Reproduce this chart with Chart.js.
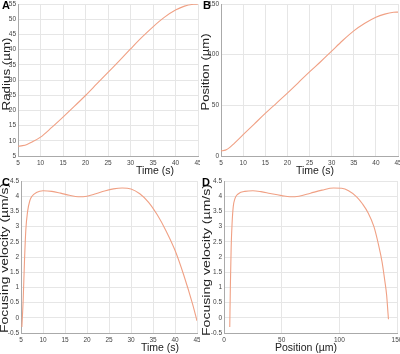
<!DOCTYPE html>
<html>
<head>
<meta charset="utf-8">
<script src="https://cdn.jsdelivr.net/npm/chart.js@4/dist/chart.umd.min.js"></script>
<style>
  body { margin: 0; background: #fff; }
  #wrap { position: relative; width: 400px; height: 354px; overflow: hidden; }
  canvas { position: absolute; }
  .tag { position: absolute; font: bold 11px "Liberation Sans", Arial, sans-serif; color: #000; }
</style>
</head>
<body>
<div id="wrap">
  <canvas id="cA" width="200" height="177" style="left:0;top:0"></canvas>
  <canvas id="cB" width="200" height="177" style="left:200px;top:0"></canvas>
  <canvas id="cC" width="200" height="177" style="left:0;top:177px"></canvas>
  <canvas id="cD" width="200" height="177" style="left:200px;top:177px"></canvas>
  <div class="tag" style="left:2px;top:-1px">A</div>
  <div class="tag" style="left:203px;top:-1px">B</div>
  <div class="tag" style="left:2px;top:176px">C</div>
  <div class="tag" style="left:202px;top:176px">D</div>
</div>
<script>
// panel A: radius vs time
var timeA = [5, 6, 7, 8, 10, 12.5, 15, 17.5, 20, 22.5, 25, 27.5, 30, 32.5, 35, 37.5, 40, 42, 44, 45];
var radius = [8.2, 8.4, 8.8, 9.5, 11.2, 14.4, 17.8, 21.3, 24.9, 28.7, 32.5, 36.3, 40.2, 44, 47.5, 50.6, 53, 54.3, 54.9, 55];

// panel B: position vs time
var timeB = [5, 6, 7, 8, 10, 12.5, 15, 17.5, 20, 22.5, 25, 27.5, 30, 32.5, 35, 37.5, 40, 42, 44, 45];
var position = [5, 5.8, 8.5, 12.5, 21, 31.5, 42, 52, 62, 72.5, 83, 93, 103.5, 114, 123.5, 131, 137, 140, 141.8, 142];

// panel C: focusing velocity vs time
var timeC = [5.2, 5.5, 5.8, 6.1, 6.5, 7, 7.5, 8.5, 10, 12, 14, 16, 18, 20, 22, 24, 26, 28, 30, 32, 34, 36, 38, 40, 42, 44, 45];
var velC = [-0.3, 0.6, 1.9, 2.9, 3.5, 3.85, 4.0, 4.12, 4.18, 4.16, 4.1, 4.03, 3.98, 4.0, 4.08, 4.17, 4.24, 4.27, 4.24, 4.08, 3.8, 3.38, 2.85, 2.22, 1.4, 0.45, -0.1];

// panel D: focusing velocity vs position
var posD = [5, 5.5, 6.2, 7, 8, 9.5, 11, 14, 18, 25, 32, 40, 50, 57, 65, 75, 85, 95, 102, 108, 115, 120, 125, 130, 134, 137, 139.5, 141, 142.2, 142.6];
var velD = [-0.3, 1.0, 2.3, 3.1, 3.65, 3.92, 4.03, 4.12, 4.16, 4.18, 4.15, 4.09, 4.02, 3.98, 4.0, 4.1, 4.2, 4.27, 4.26, 4.18, 3.98, 3.75, 3.45, 3.0, 2.4, 1.85, 1.2, 0.75, 0.15, -0.05];

var lineColor = 'rgb(240,160,132)';
var gridColor = '#e6e6e6';
var fontFam = '"Liberation Sans", Arial, sans-serif';
var tickFont = { family: fontFam, size: 6.5 };

// axis titles drawn by hand so the y title can be stretched along its length like the original
var axisTitles = {
  id: 'axisTitles',
  afterDraw: function(chart, args, o) {
    var c = chart.ctx;
    c.save();
    c.fillStyle = '#222';
    c.font = '10.5px ' + fontFam;
    c.textAlign = 'center';
    c.textBaseline = 'middle';
    c.fillText(o.xtitle, o.xx, o.xy);
    c.translate(o.yx, o.yy);
    c.rotate(-Math.PI / 2);
    var w = c.measureText(o.ytitle).width;
    c.scale(o.ylen / w, 1);
    c.fillText(o.ytitle, 0, 0);
    c.restore();
  }
};

function toPoints(xs, ys) {
  return xs.map(function(x, i) { return { x: x, y: ys[i] }; });
}

// plain number labels: 4 not 4.0
function plainLabel(v) {
  return String(Math.round(v * 100) / 100);
}

function makePanel(id, xs, ys, p) {
  var ctx = document.getElementById(id).getContext('2d');
  return new Chart(ctx, {
    type: 'line',
    data: {
      datasets: [{
        data: toPoints(xs, ys),
        borderColor: lineColor,
        borderWidth: 1.1,
        pointRadius: 0,
        cubicInterpolationMode: 'monotone',
        fill: false
      }]
    },
    plugins: [axisTitles],
    options: {
      responsive: false,
      animation: false,
      layout: { padding: { top: 4, right: p.right, left: 0, bottom: 0 } },
      plugins: {
        legend: { display: false },
        tooltip: { enabled: false },
        axisTitles: p.titles
      },
      scales: {
        x: {
          type: 'linear', min: p.xmin, max: p.xmax,
          ticks: { stepSize: p.xstep, font: tickFont, color: '#444', padding: 3, maxRotation: 0, callback: plainLabel },
          grid: { color: gridColor, drawTicks: false },
          border: { color: '#aaa' },
          afterFit: function(s) { s.height = 21; s.paddingLeft = 0; s.paddingRight = 0; }
        },
        y: {
          min: p.ymin, max: p.ymax,
          ticks: { stepSize: p.ystep, font: tickFont, color: '#444', padding: 2, callback: plainLabel },
          grid: { color: gridColor, drawTicks: false },
          border: { color: '#aaa' },
          afterFit: function(s) { s.width = p.left; s.paddingTop = 0; s.paddingBottom = 0; }
        }
      }
    }
  });
}

makePanel('cA', timeA, radius, { left: 18, right: 2, xmin: 5, xmax: 45, xstep: 5, ymin: 5, ymax: 55, ystep: 5,
  titles: { xtitle: 'Time (s)', xx: 155, xy: 171, ytitle: 'Radius (µm)', yx: 7, yy: 74, ylen: 73 } });
makePanel('cB', timeB, position, { left: 21, right: 2, xmin: 5, xmax: 45, xstep: 5, ymin: 0, ymax: 150, ystep: 50,
  titles: { xtitle: 'Time (s)', xx: 115, xy: 171, ytitle: 'Position (µm)', yx: 6, yy: 72, ylen: 77 } });
makePanel('cC', timeC, velC, { left: 21, right: 3, xmin: 5, xmax: 45, xstep: 5, ymin: -0.5, ymax: 4.5, ystep: 0.5,
  titles: { xtitle: 'Time (s)', xx: 160, xy: 171, ytitle: 'Focusing velocity (µm/s)', yx: 5, yy: 81, ylen: 150 } });
makePanel('cD', posD, velD, { left: 24, right: 3, xmin: 0, xmax: 150, xstep: 50, ymin: -0.5, ymax: 4.5, ystep: 0.5,
  titles: { xtitle: 'Position (µm)', xx: 106, xy: 171, ytitle: 'Focusing velocity (µm/s)', yx: 7, yy: 83, ylen: 152 } });
</script>
</body>
</html>
